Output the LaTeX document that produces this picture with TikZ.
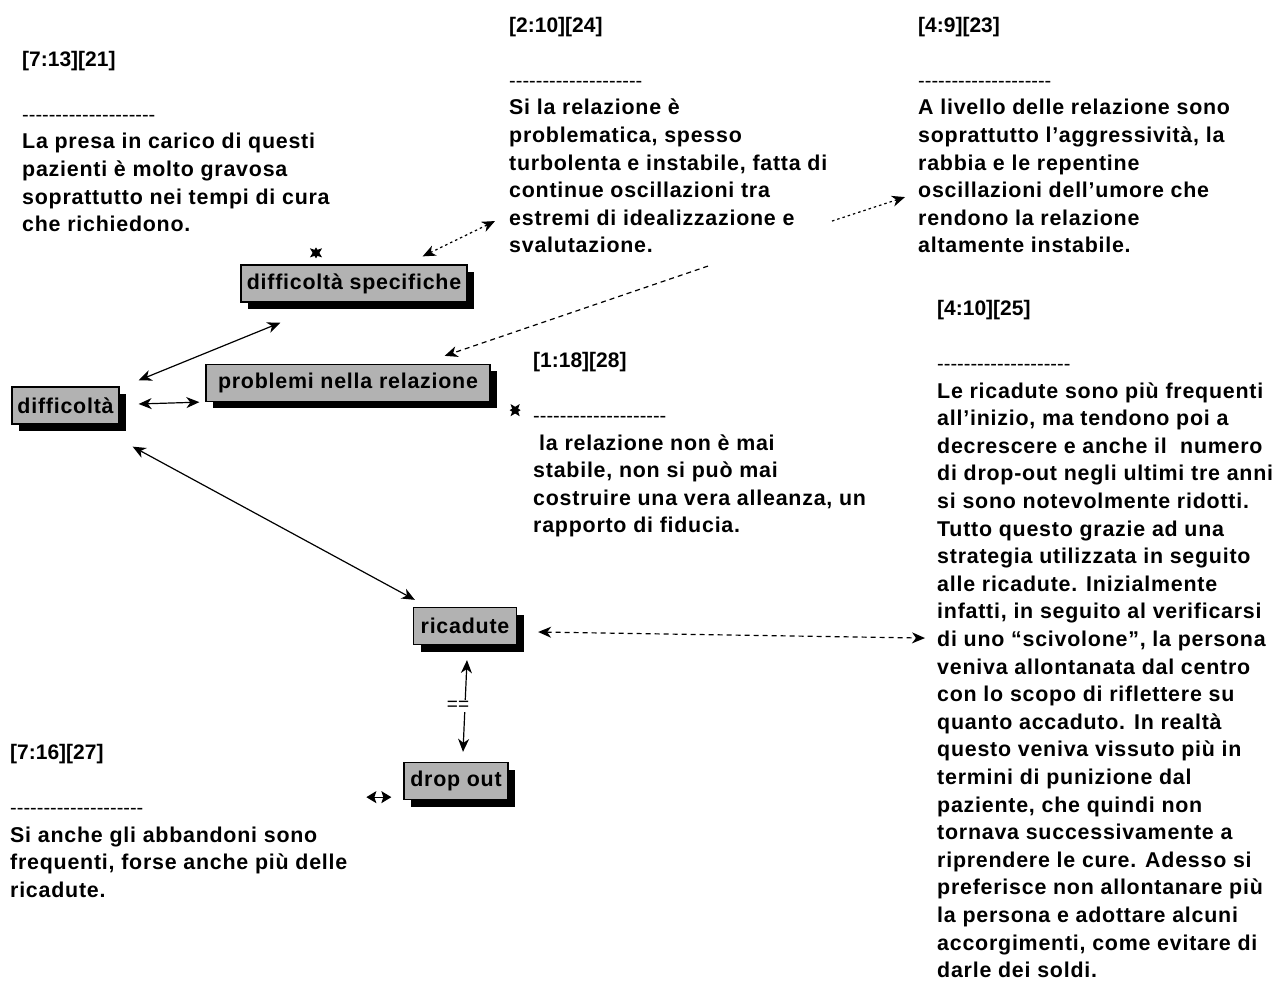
\documentclass[tikz,border=0pt]{standalone}
\usepackage{fontspec}
\setmainfont{Liberation Sans}
\newfontfamily\bodyfam[LetterSpace=3.6]{Liberation Sans}
\usetikzlibrary{arrows.meta,shadows,calc}
\definecolor{boxgray}{RGB}{178,178,178}
\newcommand\hdr[1]{{\normalfont\bfseries\fontsize{21}{27.67}\selectfont #1}}
\newcommand\dashrow{{\normalfont\fontsize{20}{27.67}\selectfont -{}-{}-{}-{}-{}-{}-{}-{}-{}-{}-{}-{}-{}-{}-{}-{}-{}-{}-{}-{}}}
\tikzset{
  txt/.style={anchor=north west, inner sep=0pt, align=left,
    font=\fontsize{21.4}{27.6}\selectfont\bodyfam\bfseries},
  box/.style={draw=black, line width=1.3pt, fill=boxgray, inner sep=0pt,
    minimum height=37pt, font=\fontsize{21.4}{24}\selectfont\bodyfam\bfseries,
    drop shadow={shadow xshift=7pt, shadow yshift=-7pt, opacity=1, fill=black}},
  tip/.tip={Stealth[length=13pt,width=11pt,inset=4pt]},
  smalltip/.tip={Stealth[length=10pt,width=12pt,inset=2pt]},
  link/.style={line width=1.2pt},
  dotlink/.style={line width=1.2pt, dash pattern=on 2.5pt off 3pt},
  dashlink/.style={line width=1.2pt, dash pattern=on 5pt off 4pt},
  lbl/.style={fill=white, inner sep=1pt, font=\fontsize{19}{20}\selectfont}
}
\begin{document}
\begin{tikzpicture}[x=1pt,y=-1pt]
\useasboundingbox[fill=white] (0,0) rectangle (1280,981);

% text blocks
\node[txt] (tA) at (22,46.68) {\strut\hdr{[7:13][21]}\\[27.6pt]\dashrow\\
La presa in carico di questi\\
pazienti è molto gravosa\\
soprattutto nei tempi di cura\\
che richiedono.};

\node[txt] (tB) at (509,12.68) {\strut\hdr{[2:10][24]}\\[27.6pt]\dashrow\\
Si la relazione è\\
problematica, spesso\\
turbolenta e instabile, fatta di\\
continue oscillazioni tra\\
estremi di idealizzazione e\\
svalutazione.};

\node[txt] (tC) at (918,12.68) {\strut\hdr{[4:9][23]}\\[27.6pt]\dashrow\\
A livello delle relazione sono\\
soprattutto l’aggressività, la\\
rabbia e le repentine\\
oscillazioni dell’umore che\\
rendono la relazione\\
altamente instabile.};

\node[txt] (tD) at (937,295.68) {\strut\hdr{[4:10][25]}\\[27.6pt]\dashrow\\
Le ricadute sono più frequenti\\
all’inizio, ma tendono poi a\\
decrescere e anche il \ numero\\
di drop-out negli ultimi tre anni\\
si sono notevolmente ridotti.\\
Tutto questo grazie ad una\\
strategia utilizzata in seguito\\
alle ricadute. Inizialmente\\
infatti, in seguito al verificarsi\\
di uno “scivolone”, la persona\\
veniva allontanata dal centro\\
con lo scopo di riflettere su\\
quanto accaduto. In realtà\\
questo veniva vissuto più in\\
termini di punizione dal\\
paziente, che quindi non\\
tornava successivamente a\\
riprendere le cure. Adesso si\\
preferisce non allontanare più\\
la persona e adottare alcuni\\
accorgimenti, come evitare di\\
darle dei soldi.};

\node[txt] (tE) at (533,347.68) {\strut\hdr{[1:18][28]}\\[27.6pt]\dashrow\\
\hspace*{6pt}la relazione non è mai\\
stabile, non si può mai\\
costruire una vera alleanza, un\\
rapporto di fiducia.};

\node[txt] (tF) at (10,739.68) {\strut\hdr{[7:16][27]}\\[27.6pt]\dashrow\\
Si anche gli abbandoni sono\\
frequenti, forse anche più delle\\
ricadute.};

% boxes
\node[box, minimum width=226pt] (spec) at (354,283.5) {difficoltà specifiche};
\node[box, minimum width=284pt] (prob) at (348,383) {problemi nella relazione};
\node[box, minimum width=107pt] (diff) at (65.5,405.5) {difficoltà};
\node[box, minimum width=103pt] (ric) at (465,626) {ricadute};
\node[box, minimum width=104pt] (drop) at (456,781) {drop out};

% connectors
\draw[link, tip-tip] ($(diff.north east)+(19,-6)$) -- ($(spec.south west)+(40,20)$);
\draw[link, tip-tip] ($(diff.east)+(19,-1.5)$) -- ($(prob.south west)+(-6,0)$);
\draw[link, tip-tip] ($(diff.south east)+(13,22)$) -- ($(ric.north west)+(2,-7)$);
\draw[dotlink, tip-tip] ($(spec.north east)+(-45,-8)$) -- ($(tB.north west)+(-14,208.4)$);
\draw[link, smalltip-smalltip] ($(spec.north)+(-38,-6)$) -- ($(spec.north)+(-38,-17)$);
\draw[dashlink, -tip] ($(tB.north west)+(199,253.4)$) -- ($(prob.north east)+(-46,-8)$);
\draw[dotlink, -tip] ($(tB.north west)+(323,208.4)$) -- ($(tC.north west)+(-13,184.4)$);
\draw[link, smalltip-smalltip] ($(prob.south east)+(19,8)$) -- ($(prob.south east)+(30,8)$);
\draw[dashlink, tip-tip] ($(ric.east)+(21,6)$) -- ($(tD.north west)+(-12,342.4)$);
\draw[link, tip-tip] ($(ric.south)+(2,15)$) -- node[lbl, xshift=-7pt] {==} ($(drop.north)+(7,-10)$);
\draw[link, smalltip-smalltip] ($(drop.south west)+(-37,-3)$) -- ($(drop.south west)+(-12,-3)$);
\end{tikzpicture}
\end{document}
